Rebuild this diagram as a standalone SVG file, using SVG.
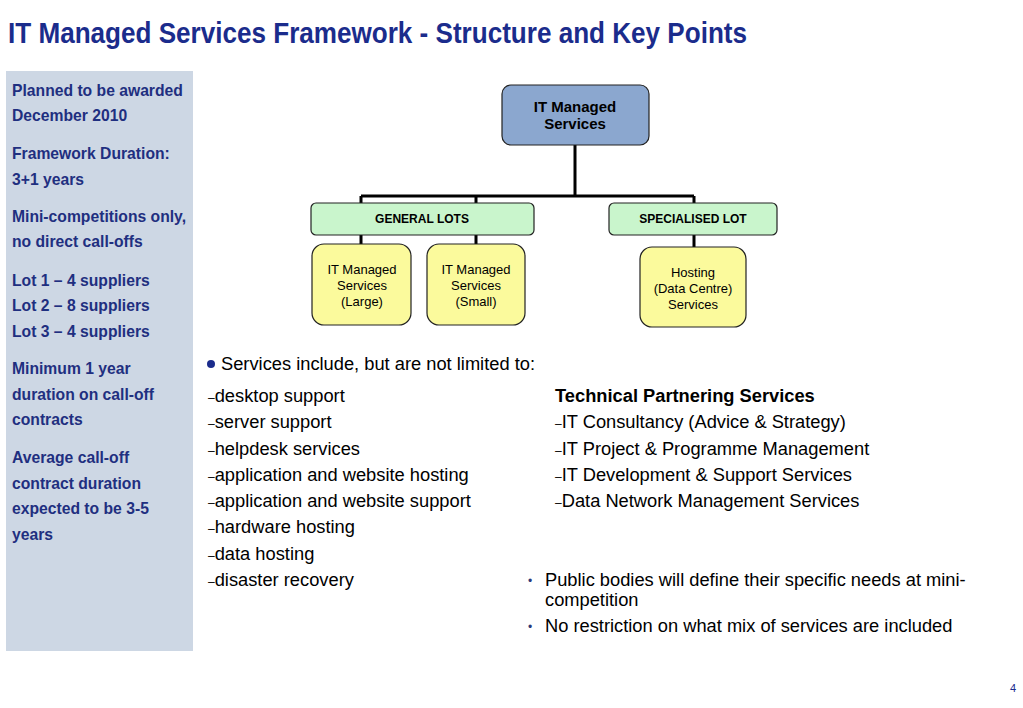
<svg xmlns="http://www.w3.org/2000/svg" width="1023" height="708" viewBox="0 0 1023 708">
<style>
.title{font-family:"Liberation Sans",Arial,sans-serif;font-weight:bold;font-size:29px;fill:#1b2c8c}
.side{font-family:"Liberation Sans",Arial,sans-serif;font-weight:bold;font-size:15.7px;fill:#1f2f80}
.body{font-family:"Liberation Sans",Arial,sans-serif;font-size:18.3px;fill:#000}
.bold{font-weight:bold}
.dash{font-size:12px}
.bul{font-family:"Liberation Sans",Arial,sans-serif;font-size:12px;fill:#2a3a7a}
.node{stroke:#222;stroke-width:1.2}
.top{fill:#8ba7cf}
.lot{fill:#c9f5cc}
.leaf{fill:#fbfa9c}
.nt{font-family:"Liberation Sans",Arial,sans-serif;fill:#000;text-anchor:middle}
.conn{stroke:#000;stroke-width:3;fill:none}
</style>
<rect width="1023" height="708" fill="#fff"/>
<text class="title" x="8" y="43" textLength="739" lengthAdjust="spacingAndGlyphs">IT Managed Services Framework - Structure and Key Points</text>

<g id="sidebar">
<rect x="6" y="71" width="187" height="580" fill="#cdd7e4"/>
<text class="side" x="12" y="96">Planned to be awarded</text>
<text class="side" x="12" y="121">December 2010</text>
<text class="side" x="12" y="159">Framework Duration:</text>
<text class="side" x="12" y="185">3+1 years</text>
<text class="side" x="12" y="222">Mini-competitions only,</text>
<text class="side" x="12" y="247">no direct call-offs</text>
<text class="side" x="12" y="286">Lot 1 – 4 suppliers</text>
<text class="side" x="12" y="311">Lot 2 – 8 suppliers</text>
<text class="side" x="12" y="337">Lot 3 – 4 suppliers</text>
<text class="side" x="12" y="374">Minimum 1 year</text>
<text class="side" x="12" y="400">duration on call-off</text>
<text class="side" x="12" y="425">contracts</text>
<text class="side" x="12" y="463">Average call-off</text>
<text class="side" x="12" y="489">contract duration</text>
<text class="side" x="12" y="514">expected to be 3-5</text>
<text class="side" x="12" y="540">years</text>
</g>

<g id="connectors">
<path class="conn" d="M575 145 V196 M361 196 H694 M361 196 V203 M476 196 V203 M694 196 V203 M361 235 V244 M476 235 V244 M694 235 V247"/>
</g>

<g id="node-it-managed-services">
<rect class="node top" x="502" y="85" width="147" height="60" rx="9"/>
<text class="nt" x="575" y="112" font-size="15" font-weight="bold">IT Managed</text>
<text class="nt" x="575" y="129" font-size="15" font-weight="bold">Services</text>
</g>
<g id="node-general-lots">
<rect class="node lot" x="311" y="203" width="223" height="32" rx="5"/>
<text class="nt" x="422" y="223" font-size="12" font-weight="bold">GENERAL LOTS</text>
</g>
<g id="node-specialised-lot">
<rect class="node lot" x="609" y="203" width="168" height="32" rx="5"/>
<text class="nt" x="693" y="223" font-size="12" font-weight="bold">SPECIALISED LOT</text>
</g>
<g id="node-large">
<rect class="node leaf" x="312" y="244" width="99" height="81" rx="12"/>
<text class="nt" x="362" y="274" font-size="13">IT Managed</text>
<text class="nt" x="362" y="290" font-size="13">Services</text>
<text class="nt" x="362" y="306" font-size="13">(Large)</text>
</g>
<g id="node-small">
<rect class="node leaf" x="427" y="244" width="98" height="81" rx="12"/>
<text class="nt" x="476" y="274" font-size="13">IT Managed</text>
<text class="nt" x="476" y="290" font-size="13">Services</text>
<text class="nt" x="476" y="306" font-size="13">(Small)</text>
</g>
<g id="node-hosting">
<rect class="node leaf" x="640" y="247" width="106" height="80" rx="12"/>
<text class="nt" x="693" y="277" font-size="13">Hosting</text>
<text class="nt" x="693" y="293" font-size="13">(Data Centre)</text>
<text class="nt" x="693" y="309" font-size="13">Services</text>
</g>

<g id="services">
<circle cx="211" cy="364" r="4" fill="#1b2c8c"/>
<text class="body" x="221" y="370">Services include, but are not limited to:</text>
<text class="body" x="208" y="402"><tspan class="dash">–</tspan>desktop support</text>
<text class="body" x="208" y="428"><tspan class="dash">–</tspan>server support</text>
<text class="body" x="208" y="455"><tspan class="dash">–</tspan>helpdesk services</text>
<text class="body" x="208" y="481"><tspan class="dash">–</tspan>application and website hosting</text>
<text class="body" x="208" y="507"><tspan class="dash">–</tspan>application and website support</text>
<text class="body" x="208" y="533"><tspan class="dash">–</tspan>hardware hosting</text>
<text class="body" x="208" y="560"><tspan class="dash">–</tspan>data hosting</text>
<text class="body" x="208" y="586"><tspan class="dash">–</tspan>disaster recovery</text>
</g>

<g id="technical">
<text class="body bold" x="555" y="402">Technical Partnering Services</text>
<text class="body" x="555" y="428"><tspan class="dash">–</tspan>IT Consultancy (Advice &amp; Strategy)</text>
<text class="body" x="555" y="455"><tspan class="dash">–</tspan>IT Project &amp; Programme Management</text>
<text class="body" x="555" y="481"><tspan class="dash">–</tspan>IT Development &amp; Support Services</text>
<text class="body" x="555" y="507"><tspan class="dash">–</tspan>Data Network Management Services</text>
</g>

<g id="notes">
<text class="bul" x="528" y="585">•</text>
<text class="body" x="545" y="586">Public bodies will define their specific needs at mini-</text>
<text class="body" x="545" y="606">competition</text>
<text class="bul" x="528" y="631">•</text>
<text class="body" x="545" y="632">No restriction on what mix of services are included</text>
</g>

<text x="1010" y="692" font-family="Liberation Sans,Arial,sans-serif" font-size="11" fill="#1b2c8c">4</text>
</svg>
